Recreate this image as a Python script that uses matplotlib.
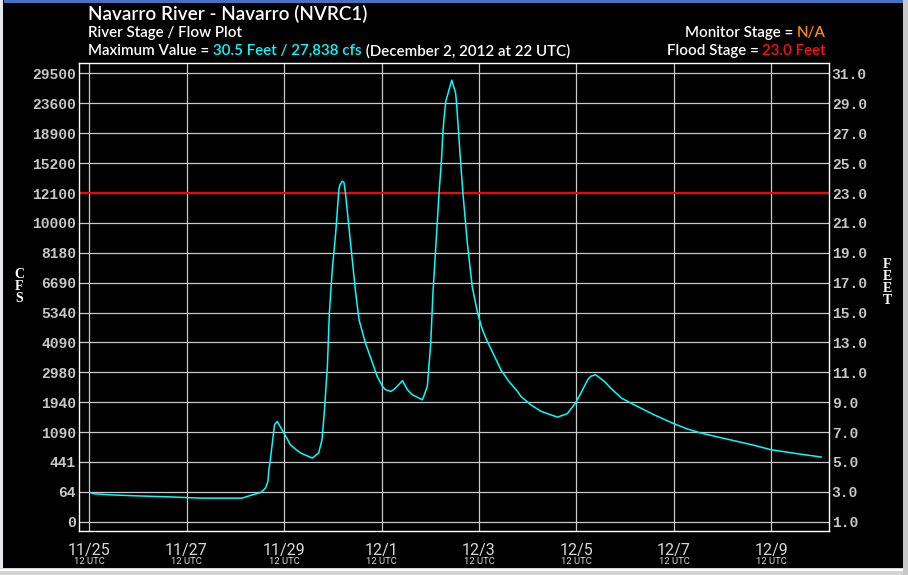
import matplotlib
matplotlib.use("Agg")
import matplotlib.pyplot as plt
from matplotlib.patches import Rectangle
from matplotlib import font_manager

# ---------------- data ----------------
# time in days since 2012-11-25 12 UTC
days = [0.027, 0.096, 0.44, 0.99, 1.60, 2.29, 3.14, 3.31, 3.52, 3.62, 3.67, 3.69,
        3.71, 3.76, 3.805, 3.86, 4.0, 4.13, 4.27, 4.34, 4.58, 4.71, 4.78, 4.83, 4.89,
        4.93, 4.99, 5.06, 5.125, 5.15, 5.195, 5.23, 5.26, 5.33, 5.40, 5.47, 5.54, 5.67, 5.84,
        5.91, 6.02, 6.08, 6.19, 6.25, 6.32, 6.43, 6.53, 6.63, 6.84, 6.94, 7.01, 7.055,
        7.11, 7.18, 7.23, 7.26, 7.28, 7.32, 7.44, 7.52, 7.54, 7.58, 7.62, 7.67, 7.76,
        7.86, 7.97, 8.07, 8.17, 8.45, 8.61, 8.79, 8.86, 9.06, 9.27, 9.47, 9.61, 9.81,
        9.98, 10.09, 10.23, 10.29, 10.39, 10.57, 10.70, 10.92, 11.18, 11.59, 12.0,
        12.28, 12.55, 12.9, 13.24, 13.65, 13.99, 14.54, 15.02]
stage_ft = [2.95, 2.87, 2.80, 2.73, 2.67, 2.58, 2.58, 2.76, 2.95, 3.25, 3.7, 4.5,
            4.9, 6.26, 7.49, 7.71, 6.93, 6.15, 5.77, 5.6, 5.26, 5.6, 6.49, 8.5, 11.4,
            14.97, 17.87, 20.33, 23.23, 23.57, 23.79, 23.7, 23.0, 20.77, 18.54, 16.31, 14.5, 12.96, 11.4,
            10.73, 10.06, 9.84, 9.72, 9.84, 10.06, 10.44, 9.84, 9.5, 9.16, 10.06, 12.96, 16.31,
            19.2, 23.0, 25.2, 27.1, 27.9, 29.15, 30.55, 29.7, 29.0, 27.1, 25.2, 23.0, 19.66,
            16.75, 14.97, 13.85, 13.07, 11.17, 10.4, 9.72, 9.39, 8.83, 8.39, 8.16, 8.0, 8.23,
            8.94, 9.61, 10.5, 10.73, 10.84, 10.4, 9.95, 9.28, 8.83, 8.16, 7.56,
            7.2, 6.94, 6.67, 6.42, 6.11, 5.82, 5.55, 5.33]

flood_stage = 23.0
stage_ticks = [1, 3, 5, 7, 9, 11, 13, 15, 17, 19, 21, 23, 25, 27, 29, 31]
stage_labels = ["1.0", "3.0", "5.0", "7.0", "9.0", "11.0", "13.0", "15.0", "17.0",
                "19.0", "21.0", "23.0", "25.0", "27.0", "29.0", "31.0"]
flow_labels = ["0", "64", "441", "1090", "1940", "2980", "4090", "5340", "6690",
               "8180", "10000", "12100", "15200", "18900", "23600", "29500"]
date_ticks = [0, 2, 4, 6, 8, 10, 12, 14]
date_labels = ["11/25", "11/27", "11/29", "12/1", "12/3", "12/5", "12/7", "12/9"]

# ---------------- fonts ----------------
avail = {f.name for f in font_manager.fontManager.ttflist}
def pick(*names):
    for n in names:
        if n in avail:
            return n
    return "DejaVu Sans"
title_font = pick("Lato", "Open Sans", "DejaVu Sans")
mono_font = pick("Liberation Mono", "DejaVu Sans Mono")
date_font = pick("Liberation Sans Narrow", "DejaVu Sans Condensed", "Roboto", "DejaVu Sans")
serif_font = pick("Liberation Serif", "DejaVu Serif")
head_weight = "semibold"

W, H = 908, 575
fig = plt.figure(figsize=(W / 100, H / 100), dpi=100, facecolor="black")

def fx(px):
    return px / W
def fy(py):
    return 1 - py / H

# frame decorations
fig.add_artist(Rectangle((0, 0), fx(3), 1, transform=fig.transFigure, color="#E6E6EE", lw=0))
fig.add_artist(Rectangle((fx(4), fy(3)), fx(900), fy(0) - fy(3), transform=fig.transFigure, color="#4A70C4", lw=0))
fig.add_artist(Rectangle((0, 0), 1, fy(568), transform=fig.transFigure, color="#D4D4D4", lw=0))
fig.add_artist(Rectangle((0, fy(571)), 1, fy(569) - fy(571), transform=fig.transFigure, color="#FFFFFF", lw=0))
fig.add_artist(Rectangle((fx(903), 0), fx(5), 1, transform=fig.transFigure, color="#C8C8C8", lw=0))

left, right, top, bottom = 78.8, 829, 63.3, 531.3
ax = fig.add_axes([fx(left), fy(bottom), fx(right - left), fy(top) - fy(bottom)])
ax.set_facecolor("black")

ax.set_xlim(-0.21, 15.18)
ax.set_ylim(0.36, 31.68)

grid_c = "#C8C8C8"
for d in date_ticks:
    ax.axvline(d, color=grid_c, lw=0.9, zorder=1)
for s in stage_ticks:
    ax.axhline(s, color=grid_c, lw=0.9, zorder=1)
ax.axhline(flood_stage, color="#FF0000", lw=1.5, zorder=2)

ax.plot(days, stage_ft, color="#00FFFF", lw=1.1, zorder=3)

for sp in ax.spines.values():
    sp.set_color("white")
    sp.set_linewidth(1.0)

ax.set_yticks(stage_ticks)
ax.set_yticklabels(flow_labels, fontfamily=mono_font, fontweight="bold", fontsize=10.5, color="#C8C8C8")
ax.tick_params(axis="y", length=0, pad=2)
ax.set_xticks([])

ax2 = ax.twinx()
ax2.set_ylim(ax.get_ylim())
ax2.set_yticks(stage_ticks)
ax2.set_yticklabels(stage_labels, fontfamily=mono_font, fontweight="bold", fontsize=10.5, color="#C8C8C8")
ax2.tick_params(axis="y", length=0, pad=2)
for sp in ax2.spines.values():
    sp.set_visible(False)

for d, lab in zip(date_ticks, date_labels):
    ax.annotate(lab, xy=(d, 0), xycoords=("data", "axes fraction"), xytext=(0, -18.7 * 0.72),
                textcoords="offset points", ha="center", va="center", fontsize=11.5,
                fontfamily=date_font, color="#D8D8D8")
    ax.annotate("12 UTC", xy=(d, 0), xycoords=("data", "axes fraction"), xytext=(0, -30.2 * 0.72),
                textcoords="offset points", ha="center", va="center", fontsize=6.8,
                fontfamily=date_font, color="#D8D8D8")

# stacked axis labels
fig.text(fx(19), fy(286), "C\nF\nS", ha="center", va="center", color="white",
         fontfamily=serif_font, fontweight="bold", fontsize=10, linespacing=0.9)
fig.text(fx(887), fy(283), "F\nE\nE\nT", ha="center", va="center", color="white",
         fontfamily=serif_font, fontweight="bold", fontsize=10, linespacing=0.9)

# header texts
fig.text(fx(88), fy(14), "Navarro River - Navarro (NVRC1)", ha="left", va="center",
         color="white", fontfamily=title_font, fontweight=head_weight, fontsize=13.6)
fig.text(fx(88), fy(33), "River Stage / Flow Plot", ha="left", va="center",
         color="white", fontfamily=title_font, fontweight=head_weight, fontsize=10.9)

fig.canvas.draw()
rend = fig.canvas.get_renderer()

def chain(x_px, y_px, parts, size):
    x = fx(x_px)
    for txt, col in parts:
        t = fig.text(x, fy(y_px), txt, ha="left", va="center", color=col,
                     fontfamily=title_font, fontweight=head_weight, fontsize=size)
        bb = t.get_window_extent(rend)
        x = bb.x1 / W

def chain_right(x_px, y_px, parts, size):
    x = fx(x_px)
    for txt, col in reversed(parts):
        t = fig.text(x, fy(y_px), txt, ha="right", va="center", color=col,
                     fontfamily=title_font, fontweight=head_weight, fontsize=size)
        bb = t.get_window_extent(rend)
        x = bb.x0 / W

chain(88, 51, [("Maximum Value = ", "white"),
               ("30.5 Feet / 27,838 cfs", "#00FFFF"),
               (" (December 2, 2012 at 22 UTC)", "white")], 10.9)
chain_right(826, 33, [("Monitor Stage = ", "white"), ("N/A", "#FF8C00")], 10.9)
chain_right(826, 51, [("Flood Stage = ", "white"), ("23.0 Feet", "#FF1010")], 10.9)

fig.savefig("out.png", dpi=100, facecolor="black")
